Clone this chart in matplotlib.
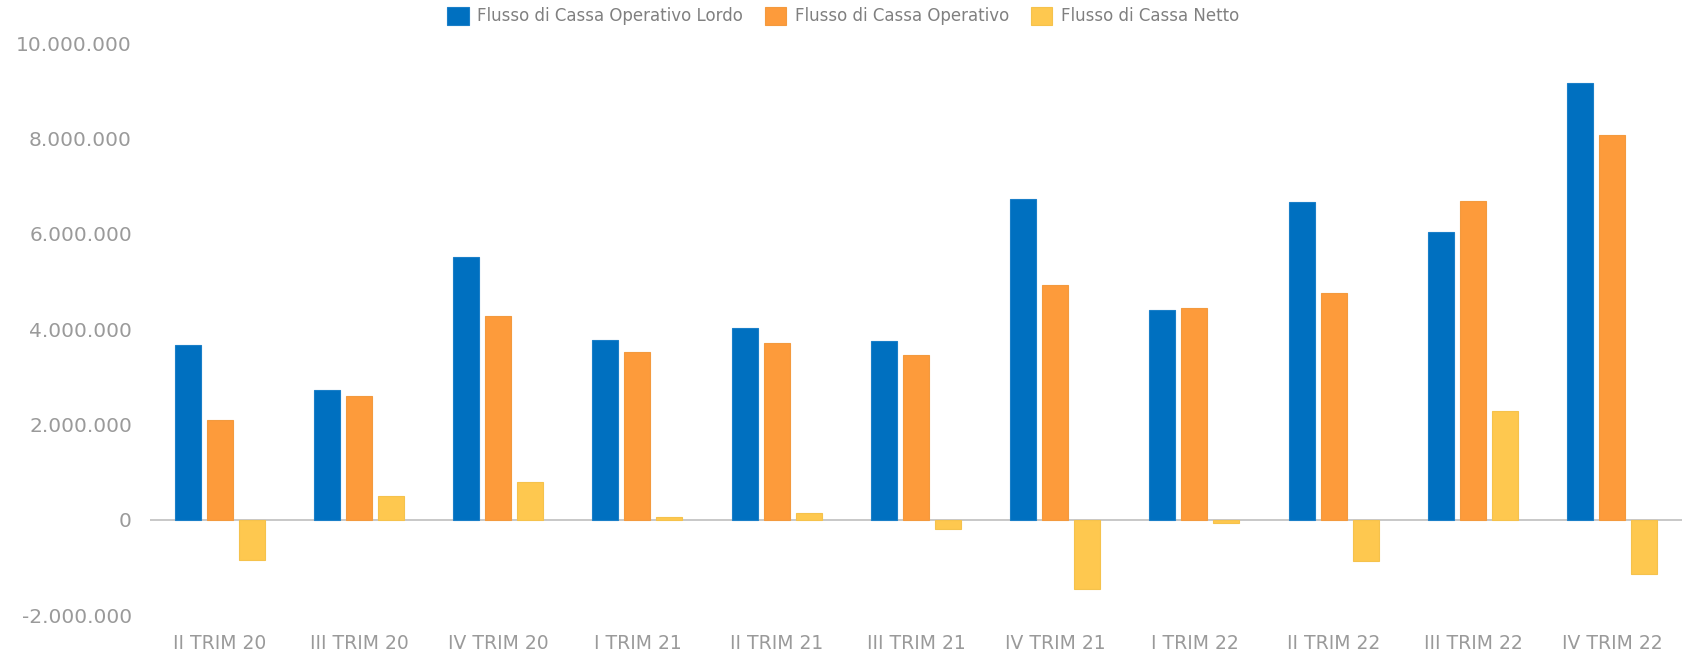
import matplotlib
matplotlib.use("Agg")
import matplotlib.pyplot as plt
import numpy as np
from matplotlib.ticker import FuncFormatter

# dati (euro)
trimestri = ["II TRIM 20", "III TRIM 20", "IV TRIM 20", "I TRIM 21", "II TRIM 21",
             "III TRIM 21", "IV TRIM 21", "I TRIM 22", "II TRIM 22", "III TRIM 22",
             "IV TRIM 22"]
fc_operativo_lordo = [3670000, 2730000, 5520000, 3780000, 4020000, 3750000,
                      6720000, 4400000, 6670000, 6030000, 9160000]
fc_operativo = [2090000, 2600000, 4270000, 3520000, 3700000, 3460000,
                4930000, 4450000, 4760000, 6690000, 8060000]
fc_netto = [-850000, 490000, 800000, 50000, 150000, -190000,
            -1460000, -80000, -870000, 2280000, -1140000]
serie = ["Flusso di Cassa Operativo Lordo", "Flusso di Cassa Operativo",
         "Flusso di Cassa Netto"]
y_ticks = [-2000000, 0, 2000000, 4000000, 6000000, 8000000, 10000000]

colori = ["#0070c0", "#fd9b3b", "#fec84f"]
bordi = ["#1a7fc8", "#f39a3e", "#f5c24c"]
GRIGIO = "#9a9a9a"

plt.rcParams["font.family"] = ["DejaVu Sans"]
fig = plt.figure(figsize=(16.86, 6.69), dpi=100)
ax = fig.add_axes([0.089, 0.0807, 0.9085, 0.855])

x = np.arange(len(trimestri))
w = 0.187
off = 0.23
for i, vals in enumerate([fc_operativo_lordo, fc_operativo, fc_netto]):
    ax.bar(x + (i - 1) * off, vals, width=w, color=colori[i], edgecolor=bordi[i],
           linewidth=0.8, label=serie[i], zorder=2)

ax.axhline(0, color="#c4c4c4", lw=1.3, zorder=1)
ax.set_xlim(-0.5, len(trimestri) - 0.5)
ax.set_ylim(y_ticks[0], y_ticks[-1])
ax.set_yticks(y_ticks)
ax.yaxis.set_major_formatter(FuncFormatter(lambda v, _: f"{v:,.0f}".replace(",", ".")))
ax.set_xticks(x)
ax.set_xticklabels(trimestri)
ax.tick_params(axis="y", length=0, pad=13, labelsize=14.5, labelcolor=GRIGIO)
ax.tick_params(axis="x", length=0, pad=14, labelsize=13.5, labelcolor=GRIGIO)
for s in ax.spines.values():
    s.set_visible(False)

fig.legend(loc="center", bbox_to_anchor=(0.5, 0.976), ncol=3, frameon=False,
           fontsize=12, labelcolor="#808080", handlelength=1.3, handleheight=1.3,
           handletextpad=0.5, columnspacing=1.3)

fig.savefig("out.png", dpi=100)
